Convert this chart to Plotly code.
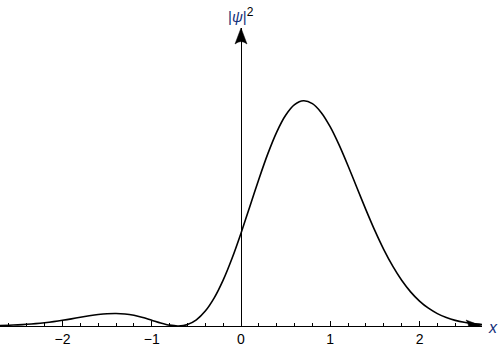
import plotly.graph_objects as go

# values
x_vals = [-2.7, -2.6, -2.5, -2.4, -2.3, -2.2, -2.1, -2.0, -1.9, -1.8, -1.7, -1.6, -1.5, -1.4,
          -1.3, -1.2, -1.1, -1.0, -0.9, -0.8, -0.7, -0.6, -0.5, -0.4, -0.3, -0.2, -0.1, 0.0,
          0.1, 0.2, 0.3, 0.4, 0.5, 0.6, 0.7, 0.8, 0.9, 1.0, 1.1, 1.2, 1.3, 1.4, 1.5, 1.6,
          1.7, 1.8, 1.9, 2.0, 2.1, 2.2, 2.3, 2.4, 2.5, 2.6, 2.7]
psi2 = [0.0054, 0.0083, 0.0124, 0.0181, 0.0256, 0.0353, 0.0472, 0.0612, 0.0770, 0.0936,
        0.1096, 0.1232, 0.1325, 0.1352, 0.1297, 0.1151, 0.0920, 0.0631, 0.0331, 0.0091,
        0.0001, 0.0160, 0.0668, 0.1607, 0.3029, 0.4942, 0.7298, 1.0000, 1.2899, 1.5812,
        1.8539, 2.0889, 2.2696, 2.3841, 2.4258, 2.3954, 2.2982, 2.1442, 1.9476, 1.7233,
        1.4865, 1.2512, 1.0269, 0.8229, 0.6441, 0.4923, 0.3677, 0.2685, 0.1916, 0.1337,
        0.0912, 0.0608, 0.0397, 0.0254, 0.0158]
tick_vals = [-2, -1, 0, 1, 2]
tick_text = ["\u22122", "\u22121", "0", "1", "2"]

X_MIN, X_MAX = -2.7, 2.7
Y_MAX = 3.21
FONT = "Liberation Sans, Arial, sans-serif"
LABEL_COLOR = "#13307a"

fig = go.Figure()
fig.add_trace(go.Scatter(
    x=x_vals, y=psi2, mode="lines",
    line=dict(color="black", width=1.6, shape="spline", smoothing=0.8),
    cliponaxis=False, hoverinfo="skip", showlegend=False,
))

fig.update_layout(
    width=500, height=348,
    margin=dict(l=0, r=18, t=28, b=22, pad=0),
    paper_bgcolor="white", plot_bgcolor="white",
    font=dict(family=FONT, size=14, color="black"),
    xaxis=dict(
        range=[X_MIN, X_MAX], showgrid=False,
        zeroline=True, zerolinecolor="black", zerolinewidth=1,
        showline=True, linecolor="black", linewidth=1,
        ticks="inside", ticklen=5, tickwidth=1, tickcolor="black",
        tickvals=tick_vals, ticktext=tick_text,
        tickfont=dict(family=FONT, size=14, color="black"),
        minor=dict(dtick=0.2, tick0=0, ticks="inside", ticklen=3, tickwidth=1, tickcolor="black"),
    ),
    yaxis=dict(
        range=[0, Y_MAX], showgrid=False, zeroline=False, showline=False,
        showticklabels=False, ticks="",
    ),
    shapes=[
        # x-axis arrowhead
        dict(type="path", xref="x", yref="y", xsizemode="pixel", ysizemode="pixel",
             xanchor=X_MAX, yanchor=0,
             path="M 0,0 L -16,6 Q -11,0 -16,-6 Z",
             fillcolor="black", line=dict(color="black", width=0.5)),
        # y-axis arrowhead
        dict(type="path", xref="x", yref="y", xsizemode="pixel", ysizemode="pixel",
             xanchor=0, yanchor=Y_MAX,
             path="M 0,0 L -6,-16 Q 0,-11 6,-16 Z",
             fillcolor="black", line=dict(color="black", width=0.5)),
    ],
    annotations=[
        dict(text="<i>x</i>", xref="paper", yref="paper", x=493 / 482, y=-1 / 298,
             showarrow=False, font=dict(family=FONT, size=16, color=LABEL_COLOR),
             xanchor="center", yanchor="middle"),
        dict(text="<span style='color:%s'>|<i>ψ</i>|</span><sup><span style='font-size:12px'>2</span></sup>" % LABEL_COLOR,
             xref="x", yref="paper", x=0, y=1 + 13 / 298,
             showarrow=False, font=dict(family=FONT, size=15, color="black"),
             xanchor="center", yanchor="middle"),
    ],
)

fig.write_html("out.html")
